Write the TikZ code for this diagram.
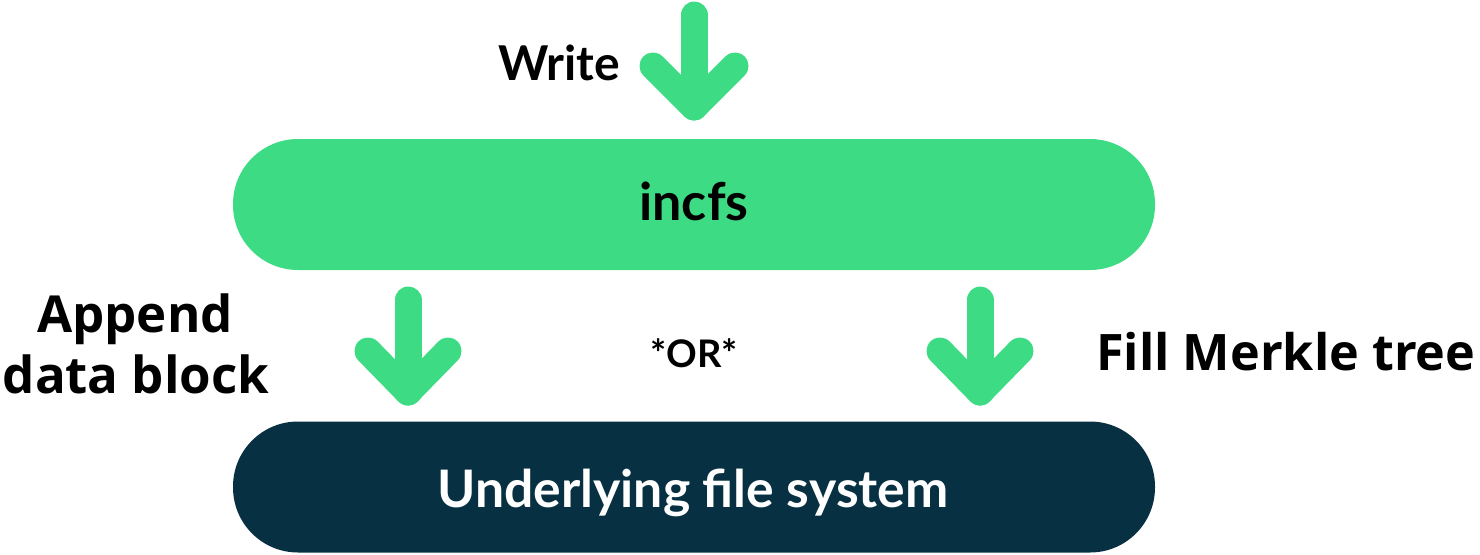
\documentclass[tikz,border=0pt]{standalone}
\usepackage{fontspec}
\newfontfamily\osans{Open Sans}[BoldFont={* Bold}]
\newfontfamily\lato{Lato}[BoldFont={* Bold}]
\definecolor{agreen}{HTML}{3DDC84}
\definecolor{anavy}{HTML}{073042}
\tikzset{
  pill/.style={rounded corners=65pt, minimum width=922pt, minimum height=131pt, inner sep=0pt},
  bigarrow/.style={agreen, line width=27pt, line cap=round, line join=round},
  lbl/.style={anchor=base, inner sep=0pt, text=black},
}
\begin{document}
\begin{tikzpicture}[x=1pt,y=-1pt]
\useasboundingbox (0,0) rectangle (1480,554);
% boxes
\node[pill, fill=agreen] (incfs) at (694,204.5) {};
\node[pill, fill=anavy] (ufs) at (694,487) {};
\node[lbl] (incfslbl) at (694,220) {\lato\bfseries\fontsize{52}{52}\selectfont incfs};
\node[lbl, text=white] (ufslbl) at (693,507) {\lato\bfseries\fontsize{51.7}{52}\selectfont Underlying file system};
% top arrow
\coordinate (wtop) at (694,15);
\coordinate (wtip) at (694,107);
\draw[bigarrow] (wtop) -- (wtip);
\draw[bigarrow] (653,66) -- (wtip) -- (735,66);
\node[lbl] (write) at (559,80) {\lato\bfseries\fontsize{48}{48}\selectfont Write};
% left arrow
\coordinate (ltop) at (408,300);
\coordinate (ltip) at (408,392);
\draw[bigarrow] (ltop) -- (ltip);
\draw[bigarrow] (368,351) -- (ltip) -- (448,351);
% right arrow
\coordinate (rtop) at (980,300);
\coordinate (rtip) at (980,392);
\draw[bigarrow] (rtop) -- (rtip);
\draw[bigarrow] (940,351) -- (rtip) -- (1020,351);
% labels
\node[lbl] (app1) at (135,332) {\osans\bfseries\fontsize{51}{51}\selectfont Append};
\node[lbl] (app2) at (136,393) {\osans\bfseries\fontsize{51}{51}\selectfont data block};
\node[lbl] (or) at (694,367) {\lato\bfseries\fontsize{38}{38}\selectfont *OR*};
\node[lbl, anchor=base west] (fill) at (1096,370) {\osans\bfseries\fontsize{50.3}{51}\selectfont Fill Merkle tree};
\end{tikzpicture}
\end{document}
